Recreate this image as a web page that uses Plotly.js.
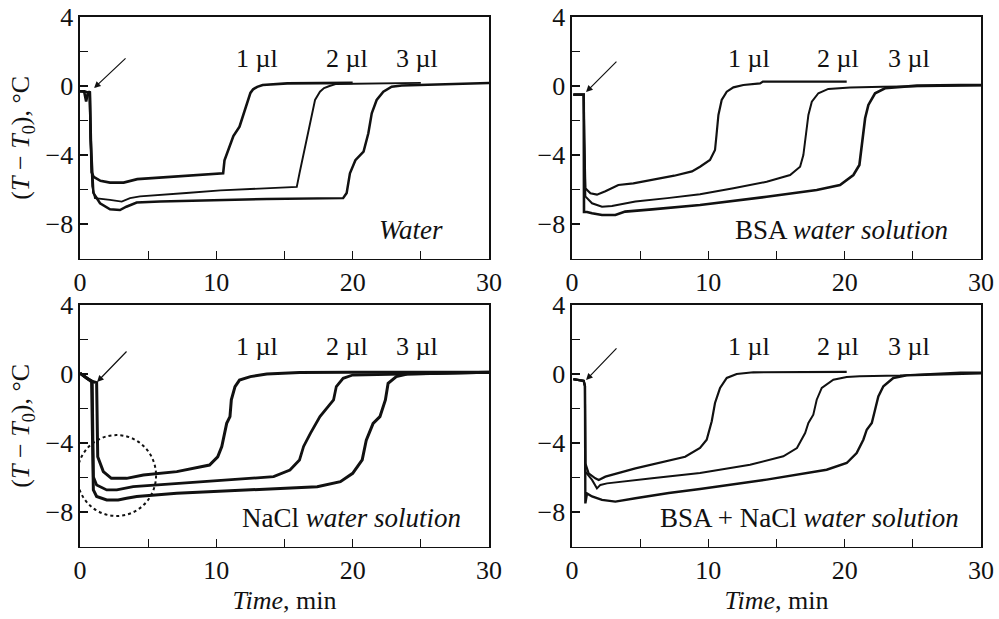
<!DOCTYPE html>
<html>
<head>
<meta charset="utf-8">
<script src="https://cdn.plot.ly/plotly-3.0.1.min.js"></script>
<style>html,body{margin:0;padding:0;background:#fff}#plot{width:999px;height:619px}</style>
</head>
<body>
<div id="plot"></div>
<script>
// ---- Water ----
const water1T = [0, 0.3, 0.45, 0.55, 0.72, 0.78, 0.85, 1.0, 1.5, 2.2, 3.2, 4.2, 6, 7.8, 9, 10.5, 10.6, 10.8, 11.25, 11.7, 12.1, 12.35, 12.5, 12.7, 13.0, 13.4, 15.2, 20];
const water1Y = [-0.3, -0.3, -0.9, -0.5, -0.3, -3.0, -5.0, -5.26, -5.5, -5.6, -5.6, -5.4, -5.3, -5.2, -5.15, -5.06, -4.3, -3.9, -2.9, -2.36, -1.39, -0.7, -0.4, -0.19, -0.05, 0.06, 0.15, 0.18];
const water2T = [0, 0.3, 0.7, 0.76, 0.9, 1.1, 1.5, 2.2, 3.06, 3.67, 4.4, 5.87, 7.8, 10.3, 12, 15.9, 16.1, 16.4, 16.75, 17.0, 17.24, 17.6, 17.9, 18.3, 18.8, 25];
const water2Y = [-0.3, -0.35, -0.4, -3.0, -5.8, -6.5, -6.55, -6.6, -6.7, -6.5, -6.4, -6.3, -6.2, -6.05, -5.98, -5.85, -5.06, -3.9, -2.74, -1.58, -0.81, -0.33, -0.12, 0, 0.12, 0.18];
const water3T = [0, 0.3, 0.72, 0.78, 0.98, 1.47, 2.2, 2.93, 3.4, 4.16, 5.87, 10.3, 13.7, 19.3, 19.56, 19.8, 20.2, 20.8, 21.15, 21.4, 21.76, 22.25, 22.86, 23.6, 24.9, 30];
const water3Y = [-0.3, -0.3, -0.4, -3.0, -6.2, -6.8, -7.15, -7.19, -7.0, -6.76, -6.7, -6.6, -6.55, -6.5, -6.2, -5.06, -4.3, -3.8, -2.74, -1.58, -0.81, -0.33, -0.04, 0.03, 0.06, 0.18];
// ---- BSA water solution ----
const bsa1T = [0.1, 0.5, 0.86, 0.9, 0.98, 1.35, 1.83, 2.45, 3.4, 4.5, 5.87, 7.5, 8.8, 9.39, 10.12, 10.49, 10.6, 10.74, 10.98, 11.35, 11.84, 12.57, 13.8, 14.0, 20.15];
const bsa1Y = [-0.5, -0.5, -0.5, -3.0, -5.93, -6.22, -6.3, -6.1, -5.74, -5.64, -5.45, -5.2, -4.95, -4.68, -4.29, -3.71, -2.84, -1.68, -0.81, -0.33, -0.08, 0.06, 0.15, 0.25, 0.25];
const bsa2T = [0.1, 0.5, 0.86, 0.9, 0.98, 1.47, 2.2, 2.93, 4.65, 7, 9.39, 11.84, 14.28, 16.0, 16.73, 16.97, 17.17, 17.34, 17.59, 18.07, 18.8, 20.4, 22.8, 28.5, 30];
const bsa2Y = [-0.5, -0.5, -0.5, -3.0, -6.4, -6.8, -7.0, -6.96, -6.7, -6.5, -6.28, -5.93, -5.55, -5.16, -4.68, -4.0, -2.84, -1.68, -0.91, -0.42, -0.17, -0.08, -0.04, 0.02, 0.03];
const bsa3T = [0.1, 0.5, 0.86, 0.88, 1.1, 1.47, 2.2, 3.18, 3.9, 5.87, 9.39, 14.28, 17.95, 19.66, 20.64, 21.08, 21.3, 21.5, 21.74, 22.23, 22.96, 25.3, 28.5, 30];
const bsa3Y = [-0.5, -0.5, -0.5, -7.3, -7.3, -7.38, -7.48, -7.48, -7.28, -7.15, -6.9, -6.42, -6.03, -5.74, -5.16, -4.58, -3.23, -1.87, -1.1, -0.42, -0.13, 0.02, 0.06, 0.06];
// ---- NaCl water solution ----
const nacl1T = [0, 0.5, 0.98, 1.22, 1.3, 1.71, 2.3, 3.42, 4.65, 7.1, 9.5, 10.1, 10.4, 10.76, 11.0, 11.1, 11.37, 11.7, 12.5, 13.7, 16.1, 19.8, 30];
const nacl1Y = [0.05, -0.25, -0.45, -0.5, -4.8, -5.66, -6.05, -6.05, -5.86, -5.66, -5.28, -4.8, -4.2, -2.86, -2.47, -1.5, -0.73, -0.35, -0.15, 0, 0.08, 0.1, 0.1];
const nacl2T = [0, 0.5, 0.9, 0.98, 1.22, 1.96, 2.7, 3.9, 7.1, 10.3, 11.2, 14.2, 15.4, 16.1, 16.4, 16.9, 17.6, 18.2, 18.6, 18.8, 19.3, 20.0, 30];
const nacl2Y = [0.05, -0.25, -0.45, -5.95, -6.43, -6.72, -6.72, -6.53, -6.34, -6.14, -6.1, -5.95, -5.57, -4.98, -4.2, -3.44, -2.47, -1.9, -1.5, -0.73, -0.25, -0.06, 0.1];
const nacl3T = [0, 0.5, 0.85, 0.98, 1.22, 1.96, 2.8, 3.42, 4.16, 7.1, 10.3, 13.7, 17.4, 19.1, 20.0, 20.7, 21.0, 21.5, 22.0, 22.4, 22.6, 23.2, 24.0, 30];
const nacl3Y = [0.05, -0.25, -0.45, -6.72, -7.1, -7.3, -7.3, -7.2, -7.1, -6.92, -6.8, -6.7, -6.53, -6.24, -5.76, -4.98, -3.83, -2.86, -2.47, -1.5, -0.54, -0.15, 0, 0.1];
// ---- BSA + NaCl water solution ----
const mix1T = [0.1, 0.5, 0.86, 0.95, 0.98, 1.22, 1.71, 1.96, 2.45, 4.65, 8.3, 9.39, 9.88, 10.25, 10.49, 10.86, 11.35, 12.08, 13.3, 20.15];
const mix1Y = [-0.3, -0.35, -0.4, -0.7, -5.18, -5.76, -6.05, -6.14, -5.95, -5.47, -4.8, -4.29, -3.81, -2.74, -1.68, -0.81, -0.23, 0, 0.1, 0.12];
const mix2T = [0.1, 0.5, 0.86, 0.95, 0.98, 1.47, 1.83, 2.08, 2.57, 5.87, 9.39, 13.06, 15.5, 16.5, 17.1, 17.34, 17.7, 17.95, 18.32, 19.17, 20.15, 21.1, 24.06, 28.5, 30];
const mix2Y = [-0.3, -0.35, -0.4, -0.7, -5.66, -6.14, -6.63, -6.43, -6.34, -6.05, -5.74, -5.26, -4.77, -4.29, -3.42, -2.84, -2.36, -1.49, -0.81, -0.33, -0.17, -0.13, -0.08, 0.08, 0.08];
const mix3T = [0.1, 0.5, 0.86, 0.95, 0.98, 1.1, 1.47, 2.2, 3.18, 4.65, 7.1, 9.39, 14.28, 18.68, 20.15, 20.88, 21.37, 21.62, 21.99, 22.23, 22.47, 22.84, 23.57, 24.55, 28.5, 30];
const mix3Y = [-0.3, -0.35, -0.4, -0.7, -7.5, -6.92, -7.1, -7.3, -7.4, -7.2, -6.9, -6.67, -6.12, -5.55, -5.16, -4.58, -3.81, -3.23, -2.84, -2.07, -1.3, -0.71, -0.23, -0.08, 0.02, 0.04];

const volumeLabels = ['1 µl', '2 µl', '3 µl'];
const panelLabels = ['<i>Water</i>', 'BSA <i>water solution</i>', 'NaCl <i>water solution</i>', 'BSA + NaCl <i>water solution</i>'];
const yTickVals = [4, 0, -4, -8];
const yTickText = ['4', '0', '−4', '−8'];
const yMinorVals = [2, -2, -6];
const xTickVals = [0, 10, 20, 30];
const xTickText = ['0', '10', '20', '30'];
const xMinorVals = [5, 15, 25];

const FONT = 'Liberation Serif, Times New Roman, serif';
const INK = '#111';

function tr(x, y, ax, w) {
  return {x: x, y: y, xaxis: 'x' + ax, yaxis: 'y' + ax, type: 'scatter', mode: 'lines',
          line: {color: INK, width: w}, hoverinfo: 'skip', showlegend: false};
}
const data = [
  tr(water1T, water1Y, '', 2.6), tr(water2T, water2Y, '', 1.9), tr(water3T, water3Y, '', 2.5),
  tr(bsa1T, bsa1Y, '2', 2.2), tr(bsa2T, bsa2Y, '2', 2.0), tr(bsa3T, bsa3Y, '2', 2.6),
  tr(nacl1T, nacl1Y, '3', 3.0), tr(nacl2T, nacl2Y, '3', 2.8), tr(nacl3T, nacl3Y, '3', 3.0),
  tr(mix1T, mix1Y, '4', 2.2), tr(mix2T, mix2Y, '4', 2.0), tr(mix3T, mix3Y, '4', 2.4)
];

const colL = [80 / 999, 489 / 999];
const colR = [572 / 999, 981 / 999];
const rowT = [1 - 258.5 / 619, 1 - 17 / 619];
const rowB = [1 - 546.5 / 619, 1 - 305 / 619];

function axisBase(dom, anchor, range, vals, text, minorVals) {
  return {domain: dom, anchor: anchor, range: range, tickmode: 'array', tickvals: vals, ticktext: text,
    ticks: 'inside', ticklen: 8, tickwidth: 1.3, tickcolor: INK, showline: true, linecolor: INK, linewidth: 1.6,
    mirror: true, showgrid: false, zeroline: false, fixedrange: true,
    minor: {tickmode: 'array', tickvals: minorVals, ticks: 'inside', ticklen: 8, tickwidth: 1.3, tickcolor: INK, showgrid: false},
    tickfont: {family: FONT, size: 26, color: INK}};
}
function xa(dom, anchor, showTitle) {
  const a = axisBase(dom, anchor, [0, 30], xTickVals, xTickText, xMinorVals);
  if (showTitle) a.title = {text: '<i>Time</i>, min', font: {family: FONT, size: 26, color: INK}, standoff: 6};
  return a;
}
function ya(dom, anchor, showTitle) {
  const a = axisBase(dom, anchor, [-10, 4], yTickVals, yTickText, yMinorVals);
  if (showTitle) a.title = {text: '(<i>T</i> − <i>T</i><sub>0</sub>), °C', font: {family: FONT, size: 26, color: INK}, standoff: 8};
  return a;
}

const annotations = [];
const axes = ['', '2', '3', '4'];
const labelX = [[13.0, 19.6, 24.7], [13.0, 19.5, 24.7], [13.0, 19.6, 24.7], [13.0, 19.5, 24.7]];
const labelRight = [26.8, 27.7, 28.1, 28.5];
const arrows = [[1.03, -0.12, 3.45, 1.68], [1.03, -0.35, 3.37, 1.5], [1.25, -0.46, 3.52, 1.39], [1.03, -0.35, 3.37, 1.57]];
axes.forEach(function (ax, i) {
  volumeLabels.forEach(function (lab, j) {
    annotations.push({xref: 'x' + ax, yref: 'y' + ax, x: labelX[i][j], y: 1.6, text: lab, showarrow: false,
      xanchor: 'center', yanchor: 'middle', font: {family: FONT, size: 26, color: INK}});
  });
  annotations.push({xref: 'x' + ax, yref: 'y' + ax, x: labelRight[i], y: -8.35, text: panelLabels[i], showarrow: false,
    xanchor: 'right', yanchor: 'middle', font: {family: FONT, size: 27, color: INK}});
  const a = arrows[i];
  annotations.push({xref: 'x' + ax, yref: 'y' + ax, axref: 'x' + ax, ayref: 'y' + ax, x: a[0], y: a[1], ax: a[2], ay: a[3],
    text: '', showarrow: true, arrowhead: 2, arrowsize: 1.1, arrowwidth: 1.2, arrowcolor: INK, standoff: 0});
});

const layout = {
  width: 999, height: 619, margin: {l: 0, r: 0, t: 0, b: 0}, paper_bgcolor: '#fff', plot_bgcolor: '#fff',
  showlegend: false,
  xaxis: xa(colL, 'y', false), yaxis: ya(rowT, 'x', true),
  xaxis2: xa(colR, 'y2', false), yaxis2: ya(rowT, 'x2', false),
  xaxis3: xa(colL, 'y3', true), yaxis3: ya(rowB, 'x3', true),
  xaxis4: xa(colR, 'y4', true), yaxis4: ya(rowB, 'x4', false),
  annotations: annotations,
  shapes: [{type: 'circle', xref: 'x3', yref: 'y3', x0: -0.22, x1: 5.58, y0: -8.23, y1: -3.54,
    line: {color: INK, width: 2, dash: 'dot'}}]
};
Plotly.newPlot('plot', data, layout, {staticPlot: true, displayModeBar: false});
</script>
</body>
</html>
